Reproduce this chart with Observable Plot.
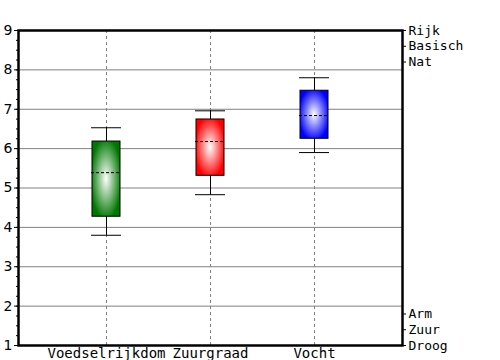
<!DOCTYPE html>
<html><head><meta charset="utf-8">
<script src="https://cdn.jsdelivr.net/npm/d3@7"></script>
<script src="https://cdn.jsdelivr.net/npm/@observablehq/plot@0.6"></script>
<style>body{margin:0;background:#fff}</style>
</head><body><div id="chart"></div>
<script>
const categories = ["Voedselrijkdom", "Zuurgraad", "Vocht"];
const whiskerLow = [3.80, 4.83, 5.90];
const q1 = [4.27, 5.31, 6.25];
const median = [5.39, 6.18, 6.84];
const q3 = [6.18, 6.74, 7.47];
const whiskerHigh = [6.53, 6.96, 7.80];
const colors = ["#007800", "#ff0000", "#0000ff"];
const yTicks = [1, 2, 3, 4, 5, 6, 7, 8, 9];
const gridY = [2, 3, 4, 5, 6, 7, 8];
const rightTicks = [9, 8.6, 8.2, 1.8, 1.4, 1.0];
const rightLabels = ["Rijk", "Basisch", "Nat", "Arm", "Zuur", "Droog"];

const data = categories.map((c, i) => ({
  cat: c, lo: whiskerLow[i], q1: q1[i], med: median[i], q3: q3[i], hi: whiskerHigh[i], i
}));
const minorTicks = d3.range(1, 9.001, 0.25);

const plot = Plot.plot({
  width: 500, height: 360,
  marginLeft: 18, marginRight: 98, marginTop: 30, marginBottom: 15,
  style: {fontFamily: "DejaVu Sans Mono", fontSize: "14px", background: "#fff"},
  x: {type: "band", domain: categories, paddingInner: 0.73, paddingOuter: 0.71, label: null},
  y: {domain: [1, 9], label: null},
  marks: [
    Plot.ruleY(gridY, {stroke: "#808080", strokeWidth: 1, strokeOpacity: 1}),
    Plot.ruleX(categories, {stroke: "#808080", strokeDasharray: "3,3", strokeOpacity: 1}),
    Plot.ruleX(data, {x: "cat", y1: "lo", y2: "q1", stroke: "black"}),
    Plot.ruleX(data, {x: "cat", y1: "q3", y2: "hi", stroke: "black"}),
    Plot.tickY(data, {x: "cat", y: "lo", stroke: "black", insetLeft: -1, insetRight: -1}),
    Plot.tickY(data, {x: "cat", y: "hi", stroke: "black", insetLeft: -1, insetRight: -1}),
    Plot.barY(data, {x: "cat", y1: "q1", y2: "q3", fill: d => `url(#grad${d.i})`, stroke: "black", strokeWidth: 1}),
    Plot.tickY(data, {x: "cat", y: "med", stroke: "black", strokeDasharray: "3,2", insetLeft: -1, insetRight: 1}),
    Plot.axisY({ticks: minorTicks, tickSize: 2, tickFormat: () => "", anchor: "left"}),
    Plot.axisY({ticks: yTicks, tickSize: 4, tickPadding: 2, tickFormat: d3.format("d"), anchor: "left", fontFamily: "DejaVu Sans", fontSize: 14}),
    Plot.axisY({ticks: rightTicks, tickSize: 3, tickPadding: 3, anchor: "right",
      tickFormat: d => rightLabels[rightTicks.indexOf(d)], fontFamily: "DejaVu Sans Mono", fontSize: 13}),
    Plot.axisX({tickSize: 0, tickPadding: 3, fontFamily: "DejaVu Sans Mono", fontSize: 14}),
    Plot.frame({stroke: "black", strokeWidth: 2.5})
  ]
});

const ns = "http://www.w3.org/2000/svg";
const defs = document.createElementNS(ns, "defs");
colors.forEach((c, i) => {
  const g = document.createElementNS(ns, "radialGradient");
  g.setAttribute("id", "grad" + i);
  g.setAttribute("cx", "0.5"); g.setAttribute("cy", "0.5"); g.setAttribute("r", "0.55");
  [[0, "#ffffff"], [1, c]].forEach(([o, col]) => {
    const s = document.createElementNS(ns, "stop");
    s.setAttribute("offset", o); s.setAttribute("stop-color", col);
    g.appendChild(s);
  });
  defs.appendChild(g);
});
plot.insertBefore(defs, plot.firstChild);
document.getElementById("chart").appendChild(plot);
</script>
</body></html>
